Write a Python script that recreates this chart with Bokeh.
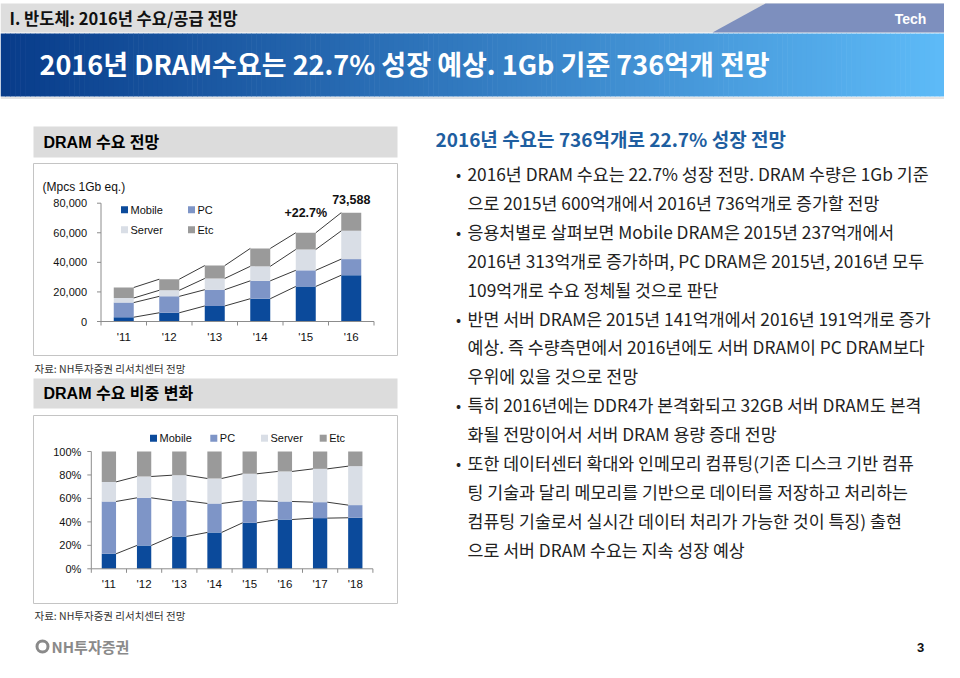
import numpy as np
from bokeh.plotting import figure
from bokeh.models import Range1d
from bokeh.core.properties import value
from bokeh.embed import file_html
from bokeh.resources import INLINE

# ---------------- data ----------------
years1 = ["'11", "'12", "'13", "'14", "'15", "'16"]
mobile1 = [2900, 5900, 10500, 15400, 23700, 31300]
pc1 = [9900, 11100, 11000, 12100, 10900, 10900]
server1 = [3100, 4100, 7600, 9800, 14100, 19100]
etc1 = [7100, 7500, 8700, 12100, 11300, 12288]
yticks1 = [0, 20000, 40000, 60000, 80000]
ytick_labels1 = ["0", "20,000", "40,000", "60,000", "80,000"]
growth_label = "+22.7%"
total_label = "73,588"

years2 = ["'11", "'12", "'13", "'14", "'15", "'16", "'17", "'18"]
mobile2 = [12.8, 19.9, 27.6, 31.0, 39.2, 42.0, 43.2, 43.5]
pc2 = [44.6, 40.6, 30.4, 24.7, 18.8, 15.4, 13.6, 10.8]
server2 = [16.7, 18.2, 21.8, 21.3, 23.0, 25.6, 28.4, 33.2]
etc2 = [25.9, 21.3, 20.2, 23.0, 19.0, 17.0, 14.8, 12.5]
yticks2 = [0, 20, 40, 60, 80, 100]
ytick_labels2 = ["0%", "20%", "40%", "60%", "80%", "100%"]

series_names = ["Mobile", "PC", "Server", "Etc"]
series_colors = ["#0B4A9B", "#7E95C7", "#D9DEE6", "#9A9A9A"]

header_text = "I. 반도체: 2016년 수요/공급 전망"
title_text = "2016년 DRAM수요는 22.7% 성장 예상. 1Gb 기준 736억개 전망"
sec1_text = "DRAM 수요 전망"
sec2_text = "DRAM 수요 비중 변화"
source_text = "자료: NH투자증권 리서치센터 전망"
unit_text = "(Mpcs 1Gb eq.)"
right_heading = "2016년 수요는 736억개로 22.7% 성장 전망"
bullets = [
    (True, "2016년 DRAM 수요는 22.7% 성장 전망. DRAM 수량은 1Gb 기준"),
    (False, "으로 2015년 600억개에서 2016년 736억개로 증가할 전망"),
    (True, "응용처별로 살펴보면 Mobile DRAM은 2015년 237억개에서"),
    (False, "2016년 313억개로 증가하며, PC DRAM은 2015년, 2016년 모두"),
    (False, "109억개로 수요 정체될 것으로 판단"),
    (True, "반면 서버 DRAM은 2015년 141억개에서 2016년 191억개로 증가"),
    (False, "예상. 즉 수량측면에서 2016년에도 서버 DRAM이 PC DRAM보다"),
    (False, "우위에 있을 것으로 전망"),
    (True, "특히 2016년에는 DDR4가 본격화되고 32GB 서버 DRAM도 본격"),
    (False, "화될 전망이어서 서버 DRAM 용량 증대 전망"),
    (True, "또한 데이터센터 확대와 인메모리 컴퓨팅(기존 디스크 기반 컴퓨"),
    (False, "팅 기술과 달리 메모리를 기반으로 데이터를 저장하고 처리하는"),
    (False, "컴퓨팅 기술로서 실시간 데이터 처리가 가능한 것이 특징) 출현"),
    (False, "으로 서버 DRAM 수요는 지속 성장 예상"),
]

# ---------------- canvas ----------------
W, H = 944, 662
p = figure(width=W, height=H, x_range=Range1d(0, W), y_range=Range1d(H, 0),
           output_backend="svg", toolbar_location=None, min_border=0,
           x_axis_location=None, y_axis_location=None)
p.grid.visible = False
p.outline_line_color = None
p.background_fill_color = "white"
p.border_fill_color = "white"

KR = "'Noto Sans CJK KR', sans-serif"
AR = "'Liberation Sans', 'Noto Sans CJK KR', sans-serif"


def txt(x, y, s, size, color="#000000", bold=False, align="left", font=KR, baseline="middle"):
    p.text(x=[x], y=[y], text=[s], text_font=value(font), text_font_size=f"{size}px",
           text_color=color, text_font_style="bold" if bold else "normal",
           text_align=align, text_baseline=baseline)


# header gray band + Tech tab
p.quad(left=[0], right=[W], top=[3], bottom=[32], fill_color="#DEDEDE", line_color=None)
p.patch(x=[765, W, W, 712], y=[3, 3, 32, 32], fill_color="#7D8FBE", line_color=None)
txt(9, 17, header_text, 16.5, color="#111111", bold=True)
txt(910, 18, "Tech", 14, color="white", bold=True, align="center", font=AR)

# gradient blue band
N = 192
edges = np.linspace(0, W, N + 1)
c0 = np.array([0x08, 0x3C, 0x8A])
c1 = np.array([0x5E, 0xBB, 0xF8])
cols = []
for k in range(N):
    t = (k + 0.5) / N
    c = (c0 + (c1 - c0) * t).astype(int)
    cols.append("#%02x%02x%02x" % tuple(c))
p.quad(left=edges[:-1], right=edges[1:] + 0.6, top=[33] * N, bottom=[96] * N, fill_color=cols, line_color=None)
p.segment(x0=[0], y0=[97.5], x1=[W], y1=[97.5], line_color="#C8C8C8", line_width=1)
txt(39, 63, title_text, 27, color="white", bold=True)

# left boxes
p.quad(left=[33, 33], right=[397, 397], top=[126, 378], bottom=[157, 408], fill_color="#DCDCDC", line_color=None)
txt(43, 141.5, sec1_text, 16, bold=True, font=AR)
txt(43, 393, sec2_text, 16, bold=True, font=AR)
p.quad(left=[33, 33], right=[397, 397], top=[163, 415], bottom=[355, 603], fill_color="white", line_color="#C4C4C4", line_width=1)
txt(34, 368, source_text, 10.5, color="#333333")
txt(34, 615, source_text, 10.5, color="#333333")

# right text
txt(435, 138, right_heading, 19, color="#1E5EA0", bold=True)
y = 173.0
for is_bullet, line in bullets:
    if is_bullet:
        txt(458, y, "•", 15, color="#222222", align="center")
    txt(467, y, line, 17.3, color="#222222")
    y += 28.9

# footer
p.circle(x=[42], y=[646], radius=5.5, fill_color=None, line_color="#8A8A8A", line_width=3)
txt(51, 646, "NH투자증권", 15, color="#8A8A8A", bold=True)
txt(920, 647, "3", 13, color="#111111", bold=True, align="center", font=AR)


# ---------------- chart helper ----------------
def stacked_chart(name, cats, series, X0, S, Y0, K, bw, yticks, ylabels, ymax, label_gap):
    # X0: x of axis start, S: px per category, Y0: y of value 0, K: px per unit
    p.extra_x_ranges[name + "x"] = Range1d(start=(0 - X0) / S - 0.5, end=(W - X0) / S - 0.5)
    p.extra_y_ranges[name + "y"] = Range1d(start=(Y0 - H) / K, end=Y0 / K)
    kw = dict(x_range_name=name + "x", y_range_name=name + "y")
    n = len(cats)
    idx = np.arange(n)
    data = np.array(series, dtype=float)
    cum = np.cumsum(data, axis=0)
    bottoms = np.vstack([np.zeros(n), cum[:-1]])
    for k in range(len(series)):
        p.vbar(x=idx, width=bw, bottom=bottoms[k], top=cum[k], fill_color=series_colors[k],
               line_color=None, **kw)
    # series lines
    nlines = len(series) - 1 if name == "c2" else len(series)
    for k in range(nlines):
        p.segment(x0=idx[:-1] + bw / 2, y0=cum[k][:-1], x1=idx[1:] - bw / 2, y1=cum[k][1:],
                  line_color="#3A3A3A", line_width=1, **kw)
    # axes
    ax = "#8C8C8C"
    p.segment(x0=[-0.5], y0=[0], x1=[-0.5], y1=[ymax], line_color=ax, line_width=1, **kw)
    p.segment(x0=[-0.5] * len(yticks), y0=yticks, x1=[-0.5 - 4 / S] * len(yticks), y1=yticks,
              line_color=ax, line_width=1, **kw)
    p.segment(x0=[-0.5], y0=[0], x1=[n - 0.5], y1=[0], line_color=ax, line_width=1, **kw)
    b = np.arange(n + 1) - 0.5
    p.segment(x0=b, y0=np.zeros(n + 1), x1=b, y1=np.full(n + 1, -4 / K), line_color=ax, line_width=1, **kw)
    p.text(x=[-0.5 - label_gap / S] * len(yticks), y=yticks, text=ylabels, text_font=value(AR),
           text_font_size="11px", text_color="#111111", text_align="right", text_baseline="middle", **kw)
    p.text(x=idx, y=np.full(n, -15 / K), text=cats, text_font=value(AR), text_font_size="11.5px",
           text_color="#111111", text_align="center", text_baseline="middle", **kw)
    return kw, idx, cum


K1 = 118.3 / 80000
kw1, idx1, cum1 = stacked_chart("c1", years1, [mobile1, pc1, server1, etc1],
                                X0=100.5, S=45.5, Y0=321.0, K=K1, bw=20 / 45.5,
                                yticks=yticks1, ylabels=ytick_labels1, ymax=80000, label_gap=14)
txt(42, 186, unit_text, 12, color="#111111", font=AR)
p.text(x=[4], y=[cum1[-1][4] + 20 / K1], text=[growth_label], text_font=value(AR), text_font_size="12.5px",
       text_font_style="bold", text_color="#111111", text_align="center", text_baseline="middle", **kw1)
p.text(x=[5], y=[cum1[-1][5] + 13 / K1], text=[total_label], text_font=value(AR), text_font_size="12.5px",
       text_font_style="bold", text_color="#111111", text_align="center", text_baseline="middle", **kw1)
# legend 1
leg1 = [(124, 209.3), (191, 209.3), (124, 229.3), (191, 229.3)]
for (lx, ly), nm, col in zip(leg1, series_names, series_colors):
    p.quad(left=[lx - 3.5], right=[lx + 3.5], top=[ly - 3.5], bottom=[ly + 3.5], fill_color=col, line_color=None)
    txt(lx + 6, ly, nm, 11, color="#111111", font=AR)

kw2, idx2, cum2 = stacked_chart("c2", years2, [mobile2, pc2, server2, etc2],
                                X0=90.8, S=35.2, Y0=568.3, K=1.173, bw=14.3 / 35.2,
                                yticks=yticks2, ylabels=ytick_labels2, ymax=100, label_gap=10)
leg2 = [153, 213.3, 264, 322.7]
for lx, nm, col in zip(leg2, series_names, series_colors):
    p.quad(left=[lx - 3.5], right=[lx + 3.5], top=[437.7 - 3.5], bottom=[437.7 + 3.5], fill_color=col, line_color=None)
    txt(lx + 6, 437.7, nm, 11, color="#111111", font=AR)

open("out.html", "w").write(file_html(p, INLINE))
